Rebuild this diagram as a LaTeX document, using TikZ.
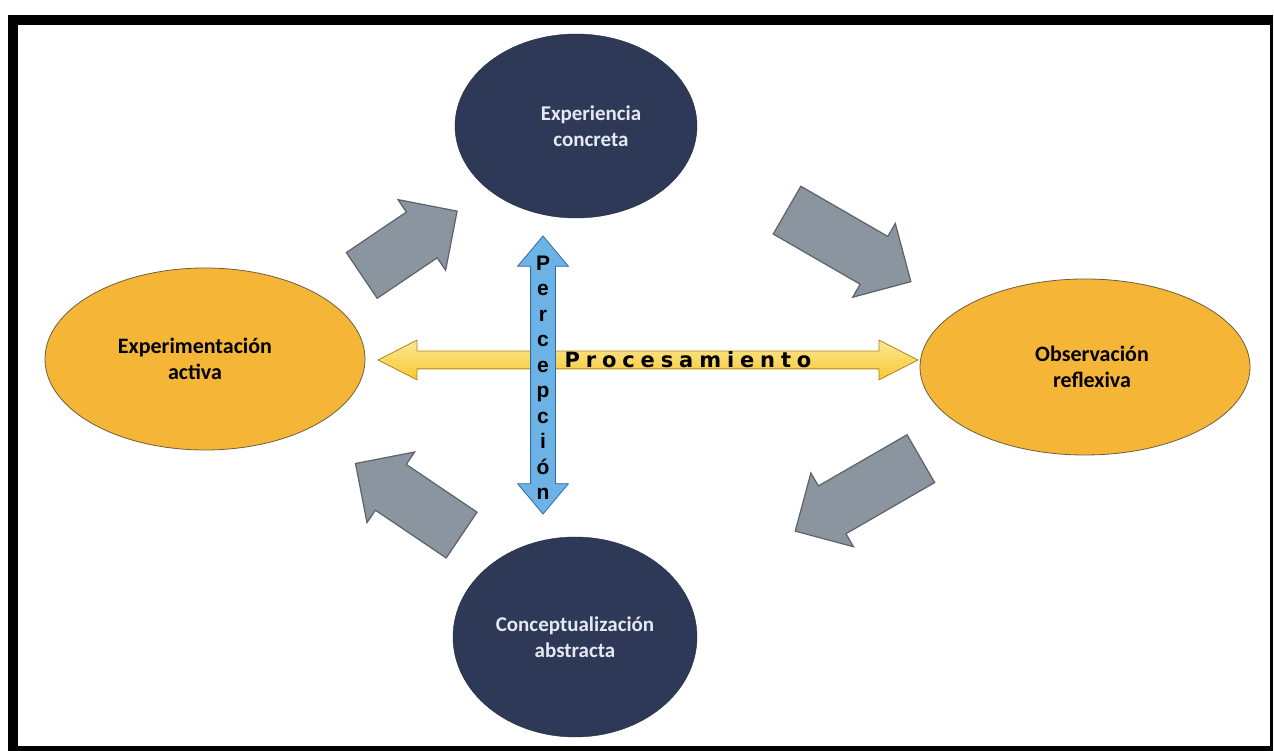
\documentclass[tikz,border=0pt]{standalone}
\usepackage{fontspec}
\setmainfont{Carlito}
\newfontfamily\procfont[LetterSpace=28]{DejaVu Sans}
\newfontfamily\percfont{Liberation Sans}
\usetikzlibrary{shapes.geometric,shapes.arrows}
\definecolor{navyfill}{RGB}{45,57,86}
\definecolor{navytext}{RGB}{228,232,240}
\definecolor{goldfill}{RGB}{245,182,56}
\definecolor{goldedge}{RGB}{110,95,60}
\definecolor{arrowgray}{RGB}{138,149,160}
\definecolor{arrowedge}{RGB}{92,98,106}
\definecolor{procyellow}{RGB}{247,212,60}
\definecolor{procedge}{RGB}{175,135,25}
\definecolor{percblue}{RGB}{108,178,228}
\definecolor{percedge}{RGB}{48,108,168}
\begin{document}
\begin{tikzpicture}[x=1pt,y=1pt,
darknode/.style={ellipse, fill=navyfill, draw=navyfill!80!black, outer sep=0pt, text=navytext, align=center, font=\bfseries\fontsize{21}{26}\selectfont},
goldnode/.style={ellipse, fill=goldfill, draw=goldedge, thick, outer sep=0pt, text=black, align=center, font=\bfseries\fontsize{22}{26}\selectfont},
cyclearrow/.style={single arrow, fill=arrowgray, draw=arrowedge, very thick, inner xsep=0pt, inner ysep=27pt, single arrow head extend=15pt, outer sep=0pt},
procarrow/.style={double arrow, top color=procyellow!55!white, bottom color=procyellow!85!orange, draw=procedge, thick, inner xsep=0pt, inner ysep=8.5pt, double arrow head extend=11pt, double arrow tip angle=54, outer sep=0pt},
percarrow/.style={double arrow, fill=percblue, draw=percedge, thick, inner xsep=0pt, inner ysep=12pt, double arrow head extend=13pt, double arrow tip angle=80, outer sep=0pt},
]
\useasboundingbox (0,0) rectangle (1274,751);
%Frame
\fill[black] (8,0) rectangle (1273,736);
\fill[white] (18,5) rectangle (1270,726);
%Nodes
\node[darknode, minimum width=242pt, minimum height=184pt] at (576,625) (expconc) {\hspace*{30pt}Experiencia\\\hspace*{30pt}concreta};
\node[goldnode, minimum width=320pt, minimum height=182pt] at (205,392) (expact) {Experimentación\hspace*{20pt}\\activa\hspace*{20pt}};
\node[goldnode, minimum width=330pt, minimum height=176pt] at (1085,384) (obsrefl) {\hspace*{14pt}Observación\\\hspace*{14pt}reflexiva};
\node[darknode, minimum width=244pt, minimum height=200pt] at (575,114) (concabs) {Conceptualización\\abstracta};
%Cycle arrows
\node[cyclearrow, minimum height=115pt, rotate=34] at (398,500) (toconc) {};
\node[cyclearrow, minimum height=143pt, rotate=-30] at (837,512) (toobs) {};
\node[cyclearrow, minimum height=145pt, rotate=210] at (870,263) (toabs) {};
\node[cyclearrow, minimum height=128pt, rotate=146] at (420,244) (toact) {};
%Axes
\node[procarrow, minimum height=540pt] at (648,391) (proc) {};
\node[percarrow, minimum height=278pt, rotate=90] at (543,376) (perc) {};
\node[font=\procfont\bfseries\fontsize{21}{23}\selectfont] at (688,391) (proctext) {Procesamiento};
\node[font=\percfont\bfseries\fontsize{21}{25.5}\selectfont, align=center] at (543,373) (perctext) {P\\e\\r\\c\\e\\p\\c\\i\\ó\\n};
\end{tikzpicture}
\end{document}
